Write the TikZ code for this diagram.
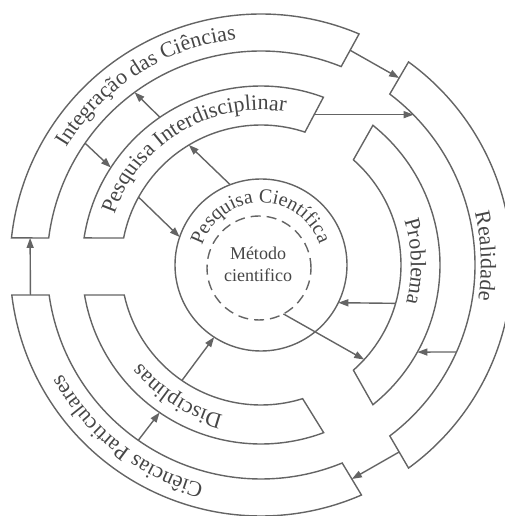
\documentclass[tikz,border=0pt]{standalone}
\usepackage{fontspec}
\setmainfont{Liberation Serif}
\usetikzlibrary{arrows.meta,calc,decorations.text}
\definecolor{lc}{RGB}{100,100,100}
\definecolor{tc}{RGB}{70,70,70}
\newcommand\arcfont{\fontsize{22}{22}\selectfont}
\newcommand\corefont{\fontsize{20}{20}\selectfont}

\begin{document}
\begin{tikzpicture}[x=1pt,y=1pt,
  ringline/.style={draw=lc, line width=1.4pt},
  link/.style={draw=lc, line width=1.4pt, -{Triangle[length=10pt,width=7pt]}},
  arctext/.style={decorate, decoration={text along path, text align=center, text color=tc}},
]
\useasboundingbox (-261,-251) rectangle (243,265);

% ---- outer ring: Integração, Realidade, Ciências Particulares
\draw[ringline] (173.8:251) coordinate (ic-a) arc[start angle=173.8, end angle=67, radius=251] coordinate (ic-b)
  -- (68:214) coordinate (ic-c) arc[start angle=68, end angle=172.75, radius=214] coordinate (ic-d) -- cycle;
\draw[ringline] (54:251) coordinate (re-a) arc[start angle=54, end angle=-54, radius=251] coordinate (re-b)
  -- (-53:214) coordinate (re-c) arc[start angle=-53, end angle=53, radius=214] coordinate (re-d) -- cycle;
\draw[ringline] (186.86:251) coordinate (cp-a) arc[start angle=186.86, end angle=293.6, radius=251] coordinate (cp-b)
  -- (292.3:214) coordinate (cp-c) arc[start angle=292.3, end angle=188.06, radius=214] coordinate (cp-d) -- cycle;

% ---- middle ring: Pesquisa Interdisciplinar, Problema, Disciplinas
\draw[ringline] (171.3:179) coordinate (pi-a) arc[start angle=171.3, end angle=69.6, radius=179] coordinate (pi-b)
  -- (71.7:140) coordinate (pi-c) arc[start angle=71.7, end angle=168.9, radius=140] coordinate (pi-d) -- cycle;
\draw[ringline] (51.3:179) coordinate (pr-a) arc[start angle=51.3, end angle=-51.3, radius=179] coordinate (pr-b)
  -- (-48.7:140) coordinate (pr-c) arc[start angle=-48.7, end angle=48.7, radius=140] coordinate (pr-d) -- cycle;
\draw[ringline] (189.65:179) coordinate (di-a) arc[start angle=189.65, end angle=290.5, radius=179] coordinate (di-b)
  -- (287.3:140) coordinate (di-c) arc[start angle=287.3, end angle=192.37, radius=140] coordinate (di-d) -- cycle;

% ---- core
\node[circle, ringline, minimum size=172pt, inner sep=0pt, outer sep=0pt] (pc) at (0,0) {};
\node[circle, draw=lc, line width=1.4pt, dash pattern=on 10pt off 6pt, minimum size=104pt,
      inner sep=0pt, outer sep=0pt] (mc) at (-2,-3) {};
\node[text=tc, align=center, font=\fontsize{18}{22}\selectfont] (met) at (-3,1) {Método\\cientifico};

% ---- end points of the connectors
\coordinate (ic-left)   at ($(ic-a)!.5!(ic-d)$);
\coordinate (ic-right)  at ($(ic-b)!.5!(ic-c)$);
\coordinate (re-top)    at ($(re-a)!.5!(re-d)$);
\coordinate (re-bottom) at ($(re-b)!.5!(re-c)$);
\coordinate (cp-top)    at ($(cp-a)!.5!(cp-d)$);
\coordinate (cp-right)  at ($(cp-b)!.5!(cp-c)$);
\coordinate (pi-right)  at ($(pi-b)!.5!(pi-c)$);
\coordinate (re-in1) at (44.5:214);
\coordinate (re-in2) at (-24:214);
\coordinate (pr-out) at (-29.1:179);
\coordinate (pr-in1) at (-15.9:140);
\coordinate (pr-in2) at (-42.5:140);
\coordinate (cp-in)  at (-125:214);
\coordinate (di-out) at (-124.5:179);
\coordinate (di-in)  at (-124.4:140);
\coordinate (pi-in1) at (121:140);
\coordinate (pi-in2) at (151:140);
\coordinate (pi-out1) at (124.4:179);
\coordinate (pi-out2) at (147:179);
\coordinate (ic-in1) at (126.2:214);
\coordinate (ic-in2) at (145.3:214);

% ---- connectors
\draw[link] (ic-right) -- (re-top);
\draw[link] (pi-right) -- (pi-right -| re-in1);
\draw[link] (re-in2) -- (pr-out);
\draw[link] (pr-in1) -- (pc.-26.5);
\draw[link] (mc.-62) -- (pr-in2);
\draw[link] (re-bottom) -- (cp-right);
\draw[link] (cp-in) -- (di-out);
\draw[link] (di-in) -- (pc.-123.5);
\draw[link] (pc.111.7) -- (pi-in1);
\draw[link] (pi-in2) -- (pc.161.4);
\draw[link] (pi-out1) -- (ic-in1);
\draw[link] (ic-in2) -- (pi-out2);
\draw[link] (cp-top) -- (ic-left);

% ---- curved labels
\path[arctext, decoration={text={|\arcfont|Integração das Ciências}}]
  (177.6:227) arc[start angle=177.6, end angle=67.6, radius=227];
\path[arctext, decoration={text={|\arcfont|Pesquisa Interdisciplinar}}]
  (176:155) arc[start angle=176, end angle=66, radius=155];
\path[arctext, decoration={text={|\corefont|Pesquisa Científica}}]
  (180.5:62) arc[start angle=180.5, end angle=0.5, radius=62];
\path[arctext, decoration={text={|\arcfont|Problema}}]
  (46.3:150) arc[start angle=46.3, end angle=-43.7, radius=150];
\path[arctext, decoration={text={|\arcfont|Realidade}}]
  (42.3:220) arc[start angle=42.3, end angle=-37.7, radius=220];
\path[arctext, decoration={text={|\arcfont|Disciplinas}}]
  (-82.4:155) arc[start angle=-82.4, end angle=-162.4, radius=155];
\path[arctext, decoration={text={|\arcfont|Ciências Particulares}}]
  (-87.9:227) arc[start angle=-87.9, end angle=-167.9, radius=227];
\end{tikzpicture}
\end{document}
